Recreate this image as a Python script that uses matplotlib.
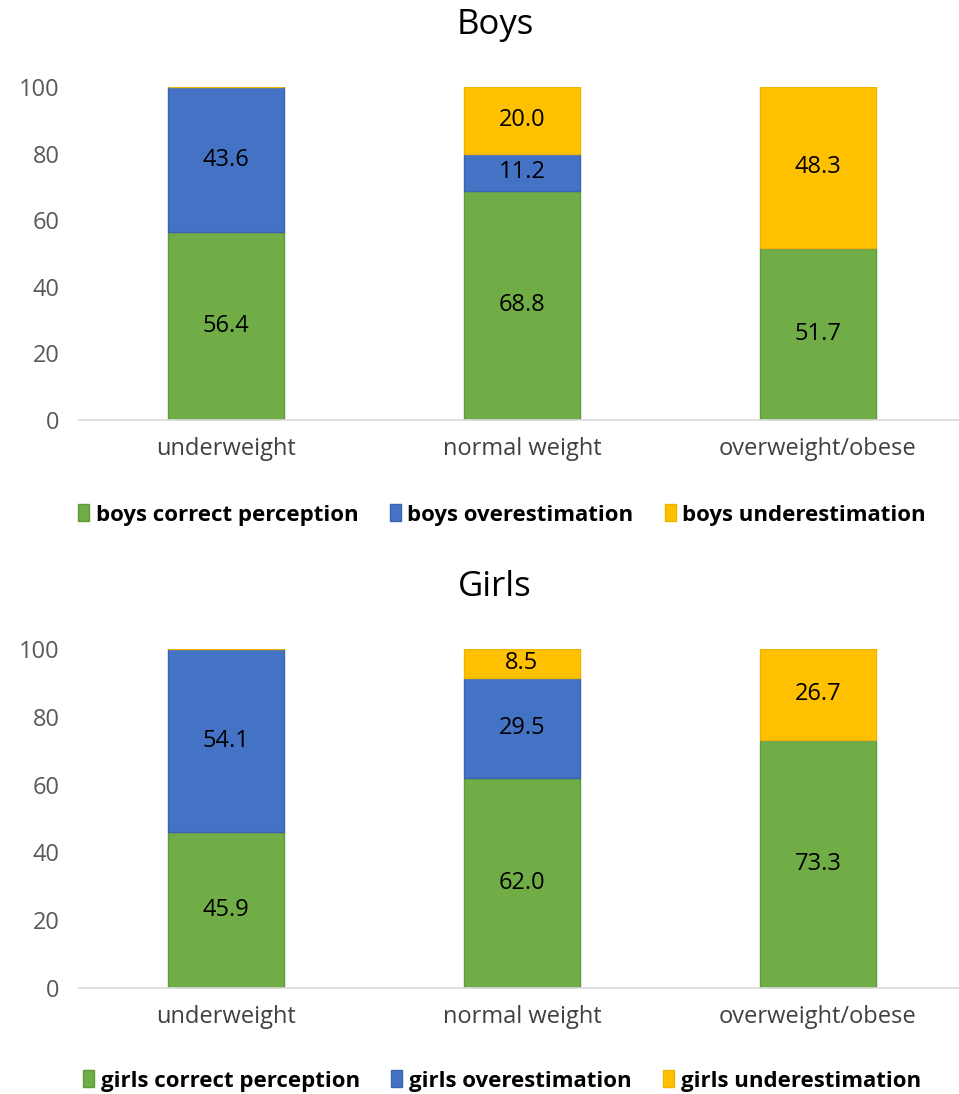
import numpy as np
import matplotlib.pyplot as plt

plt.rcParams['font.family'] = ['Open Sans', 'DejaVu Sans']

categories = ["underweight", "normal weight", "overweight/obese"]

boys_correct = [56.4, 68.8, 51.7]
boys_over = [43.6, 11.2, 0.0]
boys_under = [0.0, 20.0, 48.3]

girls_correct = [45.9, 62.0, 73.3]
girls_over = [54.1, 29.5, 0.0]
girls_under = [0.0, 8.5, 26.7]

green, blue, gold = "#70AD47", "#4472C4", "#FFC000"
edges = {green: "#5E9A38", blue: "#3A64B0", gold: "#F0B400"}

fig = plt.figure(figsize=(9.59, 10.94), dpi=100)
W, H = 959, 1094


def panel(top, bottom, title, title_y, legend_y, series):
    # axes placed in pixel coordinates
    ax = fig.add_axes([79 / W, 1 - bottom / H, (959 - 79) / W, (bottom - top) / H])
    x = np.arange(len(categories))
    base = np.zeros(len(categories))
    handles = []
    for label, vals, color in series:
        vals = np.array(vals)
        bars = ax.bar(x, vals, 0.395, bottom=base, color=color,
                      edgecolor=edges[color], linewidth=1, label=label)
        handles.append(bars)
        for xi, b, v in zip(x, base, vals):
            if v > 0:
                ax.text(xi, b + v / 2, f"{v:.1f}", ha="center", va="center",
                        fontsize=17, color="black")
        base = base + vals
    ax.set_xlim((79 - 226) / 296, (959 - 226) / 296)
    ax.set_ylim(0, 100)
    ax.set_yticks(range(0, 101, 20))
    ax.set_xticks(x)
    ax.set_xticklabels(categories)
    ax.tick_params(axis="y", length=0, labelsize=17, labelcolor="#595959", pad=14)
    ax.tick_params(axis="x", length=0, labelsize=17, labelcolor="#404040", pad=12)
    for s in ["top", "right", "left"]:
        ax.spines[s].set_visible(False)
    ax.spines["bottom"].set_color("#D9D9D9")
    ax.spines["bottom"].set_linewidth(1.2)
    fig.text(495 / W, 1 - title_y / H, title, ha="center", va="center",
             fontsize=25, color="black")
    fig.legend(handles=handles, loc="center", bbox_to_anchor=(502 / W, 1 - legend_y / H),
               ncol=3, frameon=False, handlelength=0.5, handleheight=0.8,
               handletextpad=0.3, columnspacing=1.4,
               prop={"weight": "bold", "size": 16})
    return ax


panel(87, 420, "Boys", 25, 515,
      [("boys correct perception", boys_correct, green),
       ("boys overestimation", boys_over, blue),
       ("boys underestimation", boys_under, gold)])

panel(649, 988, "Girls", 587, 1081,
      [("girls correct perception", girls_correct, green),
       ("girls overestimation", girls_over, blue),
       ("girls underestimation", girls_under, gold)])

fig.savefig("out.png", dpi=100, facecolor="white")
